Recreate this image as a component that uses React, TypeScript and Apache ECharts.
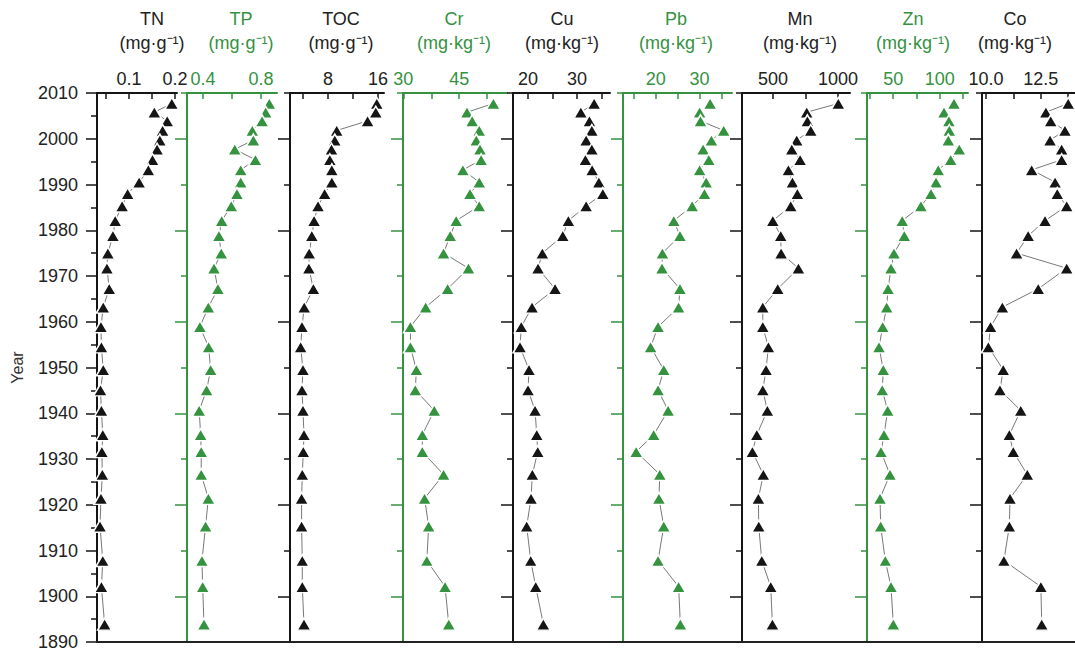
import React, { useEffect, useRef } from "react";
import * as echarts from "echarts";

// ---------------- data ----------------
const years = [2007.7, 2005.8, 2003.9, 2001.8, 1999.7, 1997.7, 1995.4, 1993.2, 1990.5, 1988.0, 1985.3, 1982.1, 1978.8, 1975.0, 1971.7, 1967.2, 1963.2, 1958.9, 1954.5, 1949.5, 1945.1, 1940.6, 1935.3, 1931.6, 1926.6, 1921.4, 1915.3, 1907.8, 1902.1, 1893.9];

const tn = [0.193, 0.155, 0.183, 0.173, 0.167, 0.161, 0.151, 0.142, 0.122, 0.097, 0.085, 0.070, 0.065, 0.054, 0.052, 0.057, 0.044, 0.039, 0.040, 0.044, 0.038, 0.040, 0.043, 0.041, 0.042, 0.039, 0.037, 0.043, 0.040, 0.047];
const tp = [0.857, 0.832, 0.807, 0.740, 0.747, 0.619, 0.761, 0.660, 0.660, 0.634, 0.595, 0.529, 0.510, 0.526, 0.476, 0.503, 0.437, 0.379, 0.439, 0.453, 0.425, 0.374, 0.384, 0.388, 0.388, 0.437, 0.418, 0.393, 0.398, 0.407];
const toc = [15.80, 15.64, 14.33, 9.41, 9.10, 8.58, 8.31, 8.63, 8.63, 7.48, 6.43, 5.80, 5.44, 5.02, 4.97, 5.69, 4.23, 3.87, 3.66, 4.03, 3.87, 4.03, 4.19, 4.08, 3.92, 3.81, 3.81, 3.92, 3.92, 4.19];
const cr = [54.2, 47.1, 48.5, 50.4, 49.6, 50.6, 50.9, 46.0, 50.4, 47.9, 50.4, 44.2, 42.6, 40.8, 47.5, 41.9, 36.0, 31.9, 31.9, 33.5, 33.2, 38.3, 35.1, 35.1, 40.8, 35.7, 36.8, 36.3, 41.2, 42.2];
const cu = [33.47, 30.76, 32.51, 33.0, 31.84, 33.0, 31.69, 33.06, 34.43, 35.24, 31.84, 28.22, 27.08, 22.92, 22.04, 25.51, 20.82, 18.63, 18.37, 20.2, 20.0, 21.43, 21.78, 21.98, 20.88, 20.61, 19.73, 20.55, 21.57, 23.12];
const pb = [32.4, 30.0, 30.2, 35.5, 32.7, 30.8, 32.1, 30.0, 31.5, 31.1, 28.3, 24.1, 25.5, 21.5, 21.4, 25.5, 25.2, 20.5, 18.8, 21.8, 20.5, 22.8, 19.5, 15.5, 20.9, 20.7, 21.8, 20.5, 25.2, 25.6];
const mn = [1002, 759, 764, 790, 682, 644, 708, 618, 649, 687, 636, 498, 559, 562, 695, 536, 421, 421, 464, 446, 421, 456, 375, 341, 425, 387, 390, 413, 482, 495];
const zn = [115.3, 104.6, 109.9, 110.3, 109.2, 121.0, 111.8, 98.4, 96.0, 90.6, 79.8, 59.7, 61.9, 50.8, 47.6, 44.4, 43.0, 38.7, 34.7, 39.3, 38.2, 44.0, 40.1, 36.8, 46.5, 35.8, 36.5, 41.5, 47.6, 50.1];
const co = [13.76, 12.74, 12.96, 13.61, 12.93, 13.46, 13.46, 12.09, 13.16, 13.26, 13.69, 12.70, 11.93, 11.40, 13.69, 12.39, 10.75, 10.21, 10.11, 10.79, 10.64, 11.59, 11.07, 11.25, 11.89, 11.10, 11.07, 10.82, 12.51, 12.55];

const panelNames = ["TN", "TP", "TOC", "Cr", "Cu", "Pb", "Mn", "Zn", "Co"];
const panelUnits = ["(mg·g⁻¹)", "(mg·g⁻¹)", "(mg·g⁻¹)", "(mg·kg⁻¹)", "(mg·kg⁻¹)", "(mg·kg⁻¹)", "(mg·kg⁻¹)", "(mg·kg⁻¹)", "(mg·kg⁻¹)"];
const panelValues = [tn, tp, toc, cr, cu, pb, mn, zn, co];

const axisMins = [0.0304, 0.29, 1.96, 29.9, 16.94, 12.49, 261, 21.8, 9.82];
const axisMaxs = [0.2043, 0.91, 16.95, 57.86, 36.7, 37.4, 1092, 130.4, 14.07];

const tnTicks = [0.05, 0.1, 0.15, 0.2];
const tpTicks = [0.4, 0.6, 0.8];
const tocTicks = [4, 8, 12, 16];
const crTicks = [30, 37.5, 45, 52.5];
const cuTicks = [20, 25, 30, 35];
const pbTicks = [15, 20, 25, 30, 35];
const mnTicks = [500, 750, 1000];
const znTicks = [25, 50, 75, 100, 125];
const coTicks = [10, 11.25, 12.5, 13.75];
const topTicks = [tnTicks, tpTicks, tocTicks, crTicks, cuTicks, pbTicks, mnTicks, znTicks, coTicks];

const tnLabels = [0.1, 0.2];
const tpLabels = [0.4, 0.8];
const tocLabels = [8, 16];
const crLabels = [30, 45];
const cuLabels = [20, 30];
const pbLabels = [20, 30];
const mnLabels = [500, 1000];
const znLabels = [50, 100];
const coLabels = [10, 12.5];
const topLabels = [tnLabels, tpLabels, tocLabels, crLabels, cuLabels, pbLabels, mnLabels, znLabels, coLabels];
const labelDecimals = [1, 1, 0, 0, 0, 0, 0, 0, 1];

const yearLabels = [1890, 1900, 1910, 1920, 1930, 1940, 1950, 1960, 1970, 1980, 1990, 2000, 2010];
const yearMajor = [1900, 1920, 1940, 1960, 1980, 2000];
const yearMinor = [1890, 1910, 1930, 1950, 1970, 1990, 2010];

// ---------------- layout / style ----------------
const GREEN = "#35923f";
const BLACK = "#151515";
const FONT = "'Liberation Sans', Arial, Helvetica, sans-serif";
const FS = 18;
const panelColors = [BLACK, GREEN, BLACK, GREEN, BLACK, GREEN, BLACK, GREEN, BLACK];
const gridLefts = [97, 187, 290, 403, 513, 623, 742, 867, 982];
const gridWidths = [80, 90, 94, 104, 97, 109, 108, 101, 93];
const titleXs = [152, 241, 341, 454, 562, 676, 800, 913, 1015];
const GRID_TOP = 93;
const GRID_H = 549;

function buildOption() {
  const grid: any[] = [];
  const xAxis: any[] = [];
  const yAxis: any[] = [];
  const series: any[] = [];
  const graphic: any[] = [];

  panelNames.forEach((name, i) => {
    const color = panelColors[i];
    const textColor = color === GREEN ? GREEN : "#222";
    grid.push({ left: gridLefts[i], width: gridWidths[i], top: GRID_TOP, height: GRID_H });
    xAxis.push({
      gridIndex: i,
      type: "value",
      position: "top",
      min: axisMins[i],
      max: axisMaxs[i],
      axisLine: { show: true, lineStyle: { color, width: 2 } },
      axisTick: { show: true, inside: true, length: 6, customValues: topTicks[i], lineStyle: { color, width: 1.5 } },
      axisLabel: {
        show: true,
        customValues: topLabels[i],
        margin: 5,
        color: textColor,
        fontSize: FS,
        fontFamily: FONT,
        formatter: (v: number) => v.toFixed(labelDecimals[i]),
      },
      splitLine: { show: false },
    });

    let mainY: number;
    if (i === 0) {
      mainY = yAxis.length;
      yAxis.push({
        gridIndex: i,
        type: "value",
        position: "left",
        min: 1890,
        max: 2010,
        interval: 10,
        axisLine: { show: true, lineStyle: { color, width: 2 } },
        axisTick: { show: true, length: 11, lineStyle: { color, width: 1.5 } },
        minorTick: { show: true, splitNumber: 2, length: 6, lineStyle: { color, width: 1.5 } },
        axisLabel: {
          show: true,
          customValues: yearLabels,
          margin: 19,
          color: "#222",
          fontSize: FS,
          fontFamily: FONT,
          formatter: (v: number) => String(Math.round(v)),
        },
        splitLine: { show: false },
        name: "Year",
        nameLocation: "middle",
        nameGap: 72,
        nameTextStyle: { color: "#333", fontSize: 16, fontFamily: FONT },
      });
    } else {
      mainY = yAxis.length;
      yAxis.push({
        gridIndex: i,
        type: "value",
        position: "left",
        min: 1890,
        max: 2010,
        axisLine: { show: true, lineStyle: { color, width: 2 } },
        axisTick: { show: true, length: 12, customValues: yearMajor, lineStyle: { color, width: 1.5 } },
        axisLabel: { show: false },
        splitLine: { show: false },
      });
      yAxis.push({
        gridIndex: i,
        type: "value",
        position: "left",
        offset: 0,
        min: 1890,
        max: 2010,
        axisLine: { show: false },
        axisTick: { show: true, length: 6, customValues: yearMinor, lineStyle: { color, width: 1.5 } },
        axisLabel: { show: false },
        splitLine: { show: false },
      });
    }

    const vals = panelValues[i];
    series.push({
      type: "line",
      name,
      xAxisIndex: i,
      yAxisIndex: mainY,
      data: years.map((yr, k) => [vals[k], yr]),
      symbol: "triangle",
      symbolSize: [14, 12],
      itemStyle: { color, borderColor: "#ffffff", borderWidth: 1.5 },
      lineStyle: { color: "#555", width: 0.8 },
      silent: true,
      emphasis: { disabled: true },
      clip: false,
    });

    graphic.push({
      type: "text",
      x: titleXs[i],
      y: 19,
      style: { text: name, fill: textColor, fontSize: FS, fontFamily: FONT, align: "center", verticalAlign: "middle" },
    });
    graphic.push({
      type: "text",
      x: titleXs[i],
      y: 43,
      style: { text: panelUnits[i], fill: textColor, fontSize: FS, fontFamily: FONT, align: "center", verticalAlign: "middle" },
    });
  });

  graphic.push({
    type: "line",
    shape: { x1: 96, y1: GRID_TOP + GRID_H, x2: 1075, y2: GRID_TOP + GRID_H },
    style: { stroke: "#222", lineWidth: 2 },
    z: 100,
  });

  return { animation: false, grid, xAxis, yAxis, series, graphic, tooltip: { show: false } };
}

export default function App() {
  const ref = useRef<HTMLDivElement>(null);
  useEffect(() => {
    if (!ref.current) return;
    const chart = echarts.init(ref.current, null, { renderer: "svg" });
    chart.setOption(buildOption() as any);
    return () => chart.dispose();
  }, []);
  return (
    <div
      ref={ref}
      style={{ position: "absolute", left: 0, top: 0, width: 1075, height: 651, background: "#fff" }}
    />
  );
}
